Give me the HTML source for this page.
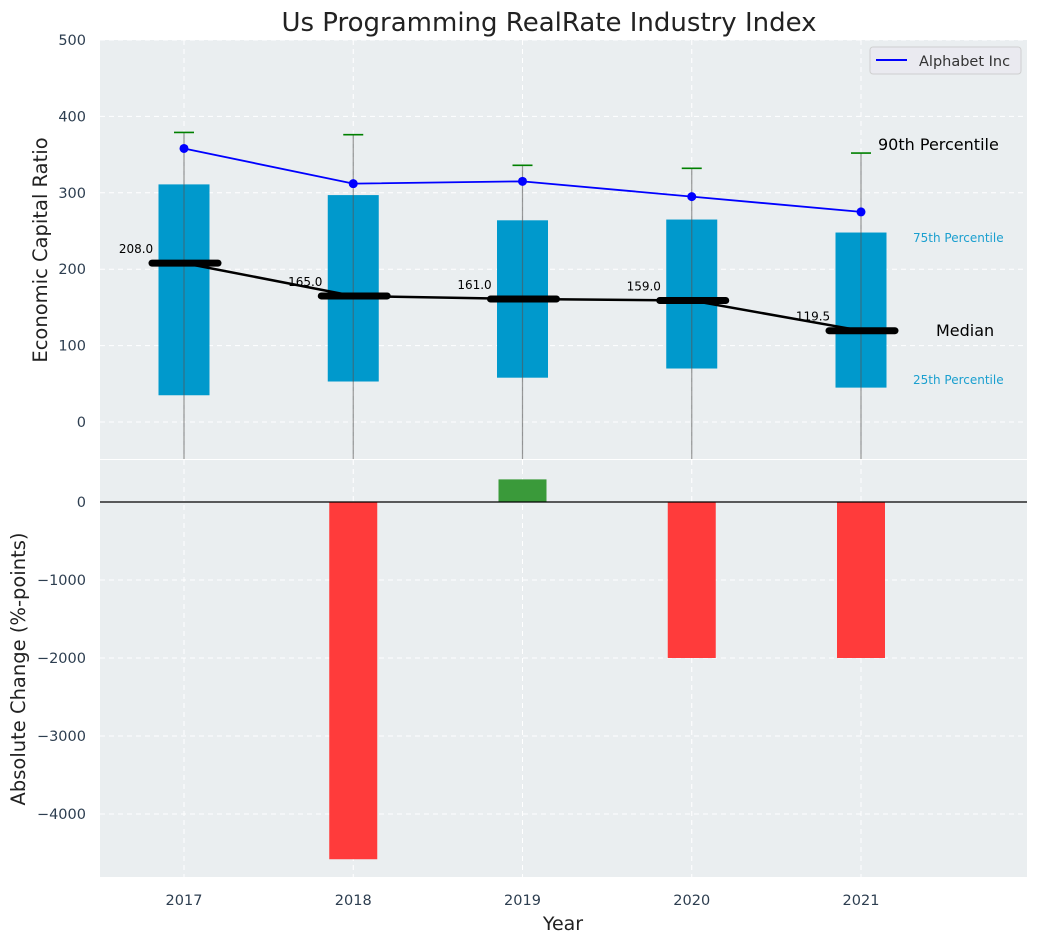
<!DOCTYPE html>
<html><head><meta charset="utf-8"><style>
body{margin:0;background:#fff;}
svg{display:block;font-family:"DejaVu Sans","Liberation Sans",sans-serif;}
</style></head><body>
<svg id="c" width="1039" height="942"></svg>
<script>
const years=[2017,2018,2019,2020,2021];
const p25=[35,53,58,70,45];
const p75=[311,297,264,265,248];
const p90=[379,376,336,332,352];
const medians=[208,165,161,159,119.5];
const alphabet=[358,312,315,295,275];
const changes=[0,-4580,290,-2000,-2000];
const topTicks=[0,100,200,300,400,500];
const botTicks=[0,-1000,-2000,-3000,-4000];

const NS="http://www.w3.org/2000/svg";
const svg=document.getElementById('c');
function mk(tag,a,parent,text){const e=document.createElementNS(NS,tag);for(const k in a)e.setAttribute(k,a[k]);if(text!==undefined)e.textContent=text;(parent||svg).appendChild(e);return e;}
const L=100,R=1027;
const x=v=>184+(v-2017)*169.25;
const T0=40,T1=459;const yT=v=>422-v*0.764;
const B0=460,B1=877;const yB=v=>502-v*0.078;

let e=mk('rect',{x:L,y:T0,width:R-L,height:T1-T0,fill:'#eaeef0'});

e=mk('rect',{x:L,y:B0,width:R-L,height:B1-B0,fill:'#eaeef0'});


years.forEach(yr=>{
  mk('line',{x1:x(yr),x2:x(yr),y1:T0,y2:T1,stroke:'#fff','stroke-dasharray':'5,4','stroke-width':1});
  mk('line',{x1:x(yr),x2:x(yr),y1:B0,y2:B1,stroke:'#fff','stroke-dasharray':'5,4','stroke-width':1});
});
topTicks.forEach(t=>{
  mk('line',{x1:L,x2:R,y1:yT(t),y2:yT(t),stroke:'#fff','stroke-dasharray':'5,4'});
  e=mk('text',{x:86,y:yT(t)+5,'text-anchor':'end','font-size':14.5,fill:'#2d3e50'},svg,String(t));
  
});
botTicks.forEach(t=>{
  mk('line',{x1:L,x2:R,y1:yB(t),y2:yB(t),stroke:'#fff','stroke-dasharray':'5,4'});
  e=mk('text',{x:86,y:yB(t)+5,'text-anchor':'end','font-size':14.5,fill:'#2d3e50'},svg,String(t).replace('-','\u2212'));
  
});

mk('clipPath',{id:'ct'},svg);
mk('rect',{x:L,y:T0,width:R-L,height:T1-T0},document.getElementById('ct'));
const g=mk('g',{'clip-path':'url(#ct)'});
years.forEach((yr,i)=>{
  e=mk('rect',{x:x(yr)-25.5,y:yT(p75[i]),width:51,height:yT(p25[i])-yT(p75[i]),fill:'#0099cc'},g);
  
  e=mk('line',{x1:x(yr),x2:x(yr),y1:yT(p90[i]),y2:T1,stroke:'#555','stroke-opacity':0.6,'stroke-width':1.2},g);
  
  e=mk('line',{x1:x(yr)-10,x2:x(yr)+10,y1:yT(p90[i]),y2:yT(p90[i]),stroke:'green','stroke-width':1.6},g);
  
});
e=mk('polyline',{points:years.map((yr,i)=>x(yr)+','+yT(medians[i])).join(' '),fill:'none',stroke:'#000','stroke-width':2.5},g);

years.forEach((yr,i)=>{
  e=mk('line',{x1:x(yr)-32,x2:x(yr)+34,y1:yT(medians[i]),y2:yT(medians[i]),stroke:'#000','stroke-width':7,'stroke-linecap':'round'},g);
  
  e=mk('text',{x:x(yr)-48,y:yT(medians[i])-10,'text-anchor':'middle','font-size':12,fill:'#000'},g,medians[i].toFixed(1));
  
});
e=mk('polyline',{points:years.map((yr,i)=>x(yr)+','+yT(alphabet[i])).join(' '),fill:'none',stroke:'#0000ff','stroke-width':1.8},g);

years.forEach((yr,i)=>{
  e=mk('circle',{cx:x(yr),cy:yT(alphabet[i]),r:4.5,fill:'#0000ff'},g);
  
});
e=mk('text',{x:878,y:150,'font-size':16,fill:'#000'},svg,'90th Percentile');
e=mk('text',{x:913,y:242,'font-size':12,fill:'#1a9fcf'},svg,'75th Percentile');
e=mk('text',{x:936,y:336,'font-size':16,fill:'#000'},svg,'Median');
e=mk('text',{x:913,y:384,'font-size':12,fill:'#1a9fcf'},svg,'25th Percentile');

const lg=mk('g',{});

mk('rect',{x:870,y:47,width:151,height:27,rx:3,fill:'#eaeaf0',stroke:'#cfcfcf'},lg);
mk('line',{x1:876,x2:907,y1:60,y2:60,stroke:'#0000ff','stroke-width':2},lg);
mk('text',{x:919,y:66,'font-size':14.5,fill:'#333'},lg,'Alphabet Inc');

years.forEach((yr,i)=>{
  const v=changes[i];if(v===0)return;
  const y0=yB(Math.max(v,0)),y1=yB(Math.min(v,0));
  e=mk('rect',{x:x(yr)-24,y:y0,width:48,height:y1-y0,fill:v<0?'#ff3b3b':'#3a9a3a'});
  
});
mk('line',{x1:L,x2:R,y1:yB(0),y2:yB(0),stroke:'#000','stroke-width':1.2});

years.forEach(yr=>{
  e=mk('text',{x:x(yr),y:905,'text-anchor':'middle','font-size':14.5,fill:'#2d3e50'},svg,String(yr));
  
});
e=mk('text',{x:563,y:930,'text-anchor':'middle','font-size':19,fill:'#222'},svg,'Year');
e=mk('text',{x:0,y:0,'text-anchor':'middle','font-size':19.5,fill:'#222',transform:'translate(47,250) rotate(-90)'},svg,'Economic Capital Ratio');
e=mk('text',{x:0,y:0,'text-anchor':'middle','font-size':19.5,fill:'#222',transform:'translate(25,669) rotate(-90)'},svg,'Absolute Change (%-points)');
e=mk('text',{x:549,y:31,'text-anchor':'middle','font-size':26,fill:'#222'},svg,'Us Programming RealRate Industry Index');
</script>
</body></html>
